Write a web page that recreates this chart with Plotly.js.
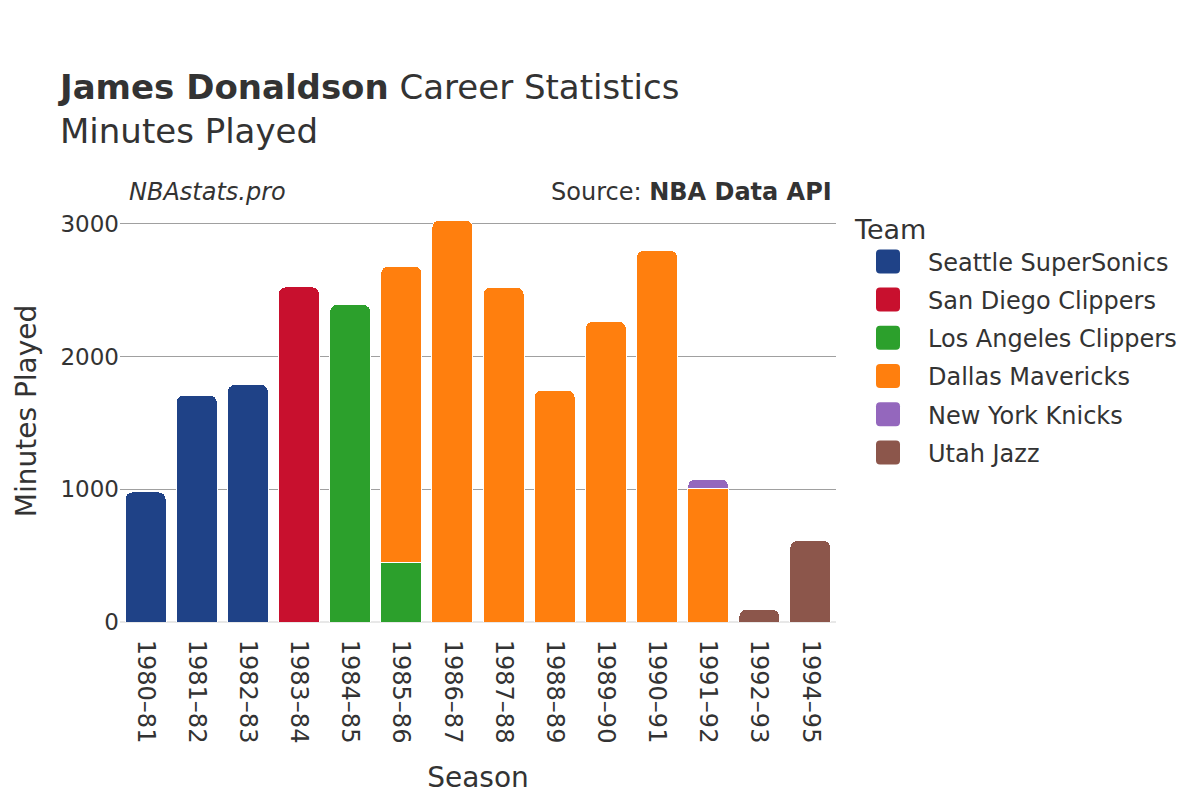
<!DOCTYPE html>
<html>
<head>
<meta charset="utf-8">
<script src="https://cdn.plot.ly/plotly-3.0.1.min.js"></script>
<style>html,body{margin:0;padding:0;background:#fff;}#chart{width:1200px;height:800px;}</style>
</head>
<body>
<div id="chart"></div>
<script>
const seasons = ["1980–81","1981–82","1982–83","1983–84","1984–85","1985–86","1986–87","1987–88","1988–89","1989–90","1990–91","1991–92","1992–93","1994–95"];
const teams = ["Seattle SuperSonics","San Diego Clippers","Los Angeles Clippers","Dallas Mavericks","New York Knicks","Utah Jazz"];
const colors = ["#1f4287","#c8102e","#2ca02c","#ff7f0e","#9467bd","#8c564b"];
const seattle = [980,1710,1789,null,null,null,null,null,null,null,null,null,null,null];
const sanDiego = [null,null,null,2525,null,null,null,null,null,null,null,null,null,null];
const laClippers = [null,null,null,null,2392,446,null,null,null,null,null,null,null,null];
const dallas = [null,null,null,null,null,2236,3028,2523,1746,2264,2800,1006,null,null];
const knicks = [null,null,null,null,null,null,null,null,null,null,null,70,null,null];
const utah = [null,null,null,null,null,null,null,null,null,null,null,null,94,613];
const series = [seattle,sanDiego,laClippers,dallas,knicks,utah];

const traces = series.map((vals,i)=>({
  type:'bar', name:teams[i], x:seasons, y:vals, legendgroup:'g'+i,
  marker:{color:colors[i], line:{color:'#ffffff', width:1}},
  hoverinfo:'x+y+name'
}));

const layout = {
  width:1200, height:800,
  paper_bgcolor:'#fff', plot_bgcolor:'#fff',
  font:{family:'DejaVu Sans, sans-serif', color:'#333', size:20},
  barmode:'stack', bargap:0.2, barcornerradius:7,
  margin:{l:120, r:364, t:200, b:178},
  title:{text:'<b>James Donaldson</b> Career Statistics<br>Minutes Played', x:0.05, xanchor:'left', xref:'container', y:0.876, yref:'container', yanchor:'top', font:{size:34, color:'#333'}},
  xaxis:{type:'category', tickangle:90, tickfont:{size:24}, ticks:'outside', ticklen:12, tickcolor:'rgba(0,0,0,0)', title:{text:'Season', font:{size:28}, standoff:24}, showgrid:false},
  yaxis:{range:[0,3180], tickvals:[0,1000,2000,3000], tickfont:{size:23}, title:{text:'Minutes Played', font:{size:28}, standoff:15}, gridcolor:'#a0a0a0', zeroline:true, zerolinecolor:'#e8e8e8', zerolinewidth:2},
  legend:{title:{text:'Team', font:{size:27}}, font:{size:24}, x:0.024, xanchor:'left', y:0.99, yanchor:'top', traceorder:'grouped', tracegroupgap:4, itemwidth:65},
  annotations:[
    {text:'<i>NBAstats.pro</i>', xref:'paper', yref:'paper', x:0.01, y:1.02, xanchor:'left', yanchor:'middle', showarrow:false, font:{size:24, color:'#333'}},
    {text:'Source: <b>NBA Data API</b>', xref:'paper', yref:'paper', x:0.997, y:1.02, xanchor:'right', yanchor:'middle', showarrow:false, font:{size:24, color:'#333'}}
  ]
};
layout.legend.x = 1 + (853-836)/716;
Plotly.newPlot('chart', traces, layout, {displayModeBar:false}).then(gd=>{
  const items = gd.querySelectorAll('.legend .traces');
  items.forEach(it=>{
    const txt = it.querySelector('text.legendtext');
    const path = it.querySelector('.legendpoints path');
    if(!txt || !path) return;
    const tb = txt.getBoundingClientRect();
    const pb = path.getBoundingClientRect();
    const cx = (pb.left+pb.right)/2;
    const dx = (tb.left - 40) - cx;
    const h = 12, r = 4;
    const x0 = dx-h, x1 = dx+h, y0 = -h, y1 = h;
    const d = `M${x0+r},${y0}H${x1-r}Q${x1},${y0} ${x1},${y0+r}V${y1-r}Q${x1},${y1} ${x1-r},${y1}H${x0+r}Q${x0},${y1} ${x0},${y1-r}V${y0+r}Q${x0},${y0} ${x0+r},${y0}Z`;
    path.setAttribute('d', d);
    path.style.strokeWidth = '0px';
  });
});
</script>
</body>
</html>
